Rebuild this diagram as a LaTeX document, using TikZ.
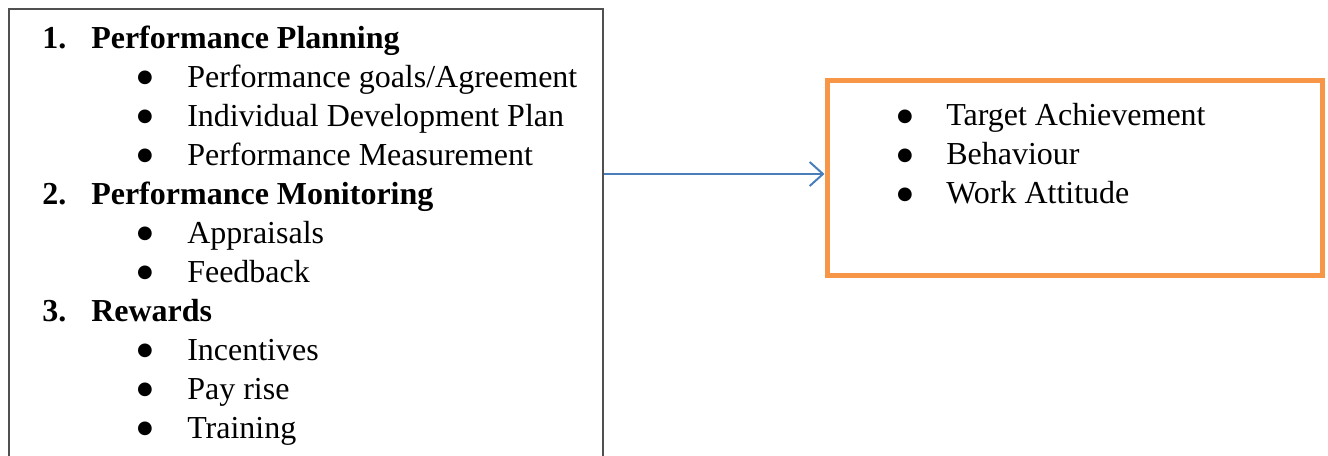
\documentclass[tikz,border=0pt]{standalone}
\usepackage{fontspec}
\setmainfont{Liberation Serif}
\newfontfamily\symfont{DejaVu Sans}
\usetikzlibrary{arrows.meta}
\definecolor{boxgray}{HTML}{505050}
\definecolor{orangeline}{HTML}{F79646}
\definecolor{arrowblue}{HTML}{4A7EBB}
\tikzset{
  txt/.style={anchor=base west, inner sep=0pt, font=\fontsize{24}{28}\selectfont},
  headtxt/.style={anchor=base west, inner sep=0pt, font=\fontsize{24}{28}\selectfont\bfseries},
  bul/.style={anchor=base, inner sep=0pt, yshift=3.3pt, font=\symfont\fontsize{13.5}{13.5}\selectfont},
  leftframe/.style={draw=boxgray, line width=1.5pt, rectangle, inner sep=0pt},
  rightframe/.style={draw=orangeline, line width=3.75pt, rectangle, inner sep=0pt},
  link/.style={draw=arrowblue, line width=1.5pt, -{Straight Barb[length=10pt,width=18pt,line width=1.5pt]}}
}
\begin{document}
\begin{tikzpicture}[x=0.75pt,y=-0.75pt]
\clip (0,0) rectangle (1328,455);
% frames
\node[leftframe, minimum width=445.5pt, minimum height=352.9pt] (leftbox) at (306,244.75) {};
\node[rightframe, minimum width=371.25pt, minimum height=146pt] (rightbox) at (1074.5,178) {};
% left list
\node[headtxt] (n1) at (42,48) {1.};
\node[headtxt] (h1) at (91,48) {Performance Planning};
\node[bul] (b1) at (145,87) {●};
\node[txt] (t1) at (187,87) {Performance goals/Agreement};
\node[bul] (b2) at (145,126) {●};
\node[txt] (t2) at (187,126) {Individual Development Plan};
\node[bul] (b3) at (145,165) {●};
\node[txt] (t3) at (187,165) {Performance Measurement};
\node[headtxt] (n2) at (42,204) {2.};
\node[headtxt] (h2) at (91,204) {Performance Monitoring};
\node[bul] (b4) at (145,243) {●};
\node[txt] (t4) at (187,243) {Appraisals};
\node[bul] (b5) at (145,282) {●};
\node[txt] (t5) at (187,282) {Feedback};
\node[headtxt] (n3) at (42,321) {3.};
\node[headtxt] (h3) at (91,321) {Rewards};
\node[bul] (b6) at (145,360) {●};
\node[txt] (t6) at (187,360) {Incentives};
\node[bul] (b7) at (145,399) {●};
\node[txt] (t7) at (187,399) {Pay rise};
\node[bul] (b8) at (145,438) {●};
\node[txt] (t8) at (187,438) {Training};
% right list
\node[bul] (r1) at (905,125.5) {●};
\node[txt] (s1) at (946,125.5) {Target Achievement};
\node[bul] (r2) at (905,164.5) {●};
\node[txt] (s2) at (946,164.5) {Behaviour};
\node[bul] (r3) at (905,203.5) {●};
\node[txt] (s3) at (946,203.5) {Work Attitude};
% connector
\coordinate (arrowy) at (0,174);
\draw[link] (leftbox.east |- arrowy) -- (rightbox.west |- arrowy);
\end{tikzpicture}
\end{document}
